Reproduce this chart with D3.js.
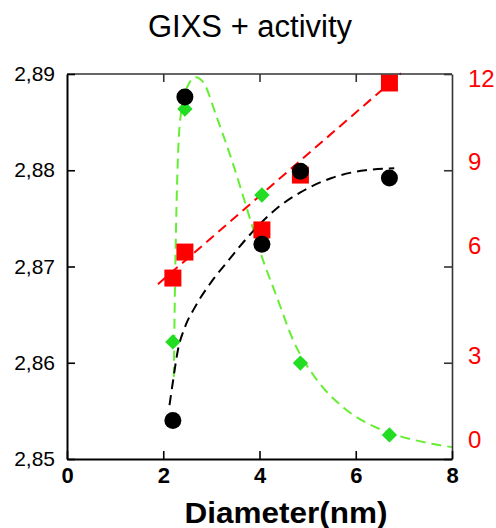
<!DOCTYPE html>
<html>
<head>
<meta charset="utf-8">
<script src="https://cdn.jsdelivr.net/npm/d3@7"></script>
<style>
  html, body { margin: 0; padding: 0; background: #fff; }
  svg { display: block; font-family: 'Liberation Sans', Arial, sans-serif; }
</style>
</head>
<body>
<svg id="chart"></svg>
<script>
// measured points (diameter in nm)
const diameters = [2.2, 2.45, 4.05, 4.85, 6.7];
const gixs = [2.854, 2.8876, 2.8723, 2.8799, 2.8792];           // left axis, black circles
const activitySquares = [5.64, 6.45, 7.14, 8.85, 11.72];        // right axis, red squares
const activityDiamonds = [3.65, 10.91, 8.23, 2.99, 0.75];       // right axis, green diamonds

// fitted curves
const blackFitX = [2.13, 2.2, 2.3, 2.45, 2.65, 3.0, 3.35, 3.8, 4.35, 4.85, 5.5, 6.2, 6.8];
const blackFitY = [2.8556, 2.858, 2.8612, 2.8637, 2.8657, 2.8684, 2.8706, 2.8733, 2.876, 2.8777, 2.8792, 2.88, 2.8802];
const redFitX = [1.89, 6.94];
const redFitY = [5.45, 12.02];
const greenFitX = [2.22, 2.24, 2.27, 2.31, 2.38, 2.5, 2.68, 2.85, 3.1, 3.45, 3.8, 4.05, 4.36, 4.7, 5.2, 5.75, 6.55, 7.25, 8.0];
const greenFitY = [2.56, 5.0, 7.5, 9.6, 10.9, 11.6, 11.9, 11.7, 10.7, 9.2, 7.5, 6.3, 5.05, 3.7, 2.45, 1.6, 0.9, 0.58, 0.37];

// axes
const xTicks = [0, 2, 4, 6, 8];
const leftTicks = [2.85, 2.86, 2.87, 2.88, 2.89];
const rightTicks = [0, 3, 6, 9, 12];

const title = 'GIXS + activity';
const xLabel = 'Diameter(nm)';

const width = 496;
const height = 528;
const plot = { left: 67, right: 452, top: 74, bottom: 459 };
// right labels sit a bit off their ticks in the original
const rightLabelShift = { 0: -19, 3: -7, 6: -21, 9: -8, 12: 5 };

const svg = d3.select('#chart').attr('width', width).attr('height', height);

const x = d3.scaleLinear().domain([0, 8]).range([plot.left, plot.right]);
const yL = d3.scaleLinear().domain([2.85, 2.89]).range([plot.bottom, plot.top]);
const yR = d3.scaleLinear().domain([0, 12]).range([plot.bottom, plot.top]);

const comma = v => d3.format('.2f')(v).replace('.', ',');

// title
svg.append('text')
  .attr('x', 250)
  .attr('y', 37)
  .attr('text-anchor', 'middle')
  .attr('font-size', 31)
  .attr('textLength', 204)
  .attr('lengthAdjust', 'spacingAndGlyphs')
  .text(title);

// curves
const greenLine = d3.line()
  .x((d, i) => x(greenFitX[i]))
  .y(d => yR(d))
  .curve(d3.curveMonotoneX);
svg.append('path')
  .attr('d', greenLine(greenFitY))
  .attr('fill', 'none')
  .attr('stroke', '#66ee33')
  .attr('stroke-width', 2)
  .attr('stroke-dasharray', '10,6');

const redLine = d3.line()
  .x((d, i) => x(redFitX[i]))
  .y(d => yR(d));
svg.append('path')
  .attr('d', redLine(redFitY))
  .attr('fill', 'none')
  .attr('stroke', '#ff0000')
  .attr('stroke-width', 2)
  .attr('stroke-dasharray', '10,6');

const blackLine = d3.line()
  .x((d, i) => x(blackFitX[i]))
  .y(d => yL(d))
  .curve(d3.curveMonotoneX);
svg.append('path')
  .attr('d', blackLine(blackFitY))
  .attr('fill', 'none')
  .attr('stroke', '#000')
  .attr('stroke-width', 2)
  .attr('stroke-dasharray', '10,6');

// markers
svg.append('g')
  .selectAll('rect')
  .data(activitySquares)
  .enter()
  .append('rect')
  .attr('x', (d, i) => x(diameters[i]) - 8.5)
  .attr('y', d => yR(d) - 8.5)
  .attr('width', 17)
  .attr('height', 17)
  .attr('fill', '#ff0000');

const diamond = d3.symbol().type(d3.symbolSquare).size(118);
svg.append('g')
  .selectAll('path')
  .data(activityDiamonds)
  .enter()
  .append('path')
  .attr('d', diamond)
  .attr('transform', (d, i) => `translate(${x(diameters[i])},${yR(d)}) rotate(45)`)
  .attr('fill', '#22dd22');

svg.append('g')
  .selectAll('circle')
  .data(gixs)
  .enter()
  .append('circle')
  .attr('cx', (d, i) => x(diameters[i]))
  .attr('cy', d => yL(d))
  .attr('r', 8.5)
  .attr('fill', '#000');

// axes
const styleAxis = (g, color, w) => {
  g.select('.domain').attr('stroke', color).attr('stroke-width', w);
  g.selectAll('.tick line').attr('stroke', color).attr('stroke-width', 1.6);
};

const topAxis = svg.append('g')
  .attr('transform', `translate(0,${plot.top})`)
  .call(d3.axisTop(x).tickValues([2, 4, 6]).tickSize(-8).tickSizeOuter(0).tickFormat(''));
topAxis.select('.domain').attr('d', `M${plot.left},0H${plot.right}`);
styleAxis(topAxis, '#333', 1.6);

const rightAxis = svg.append('g')
  .attr('transform', `translate(${plot.right},0)`)
  .call(d3.axisRight(yR).tickValues(rightTicks).tickSize(-8).tickSizeOuter(0).tickPadding(16));
styleAxis(rightAxis, '#333', 1.6);
rightAxis.selectAll('.tick text')
  .attr('fill', '#ff0000')
  .attr('font-size', 24)
  .attr('font-family', null)
  .attr('y', d => rightLabelShift[d]);

const leftAxis = svg.append('g')
  .attr('transform', `translate(${plot.left},0)`)
  .call(d3.axisLeft(yL).tickValues(leftTicks).tickSize(-8).tickSizeOuter(0).tickPadding(12).tickFormat(comma));
styleAxis(leftAxis, '#000', 2);
leftAxis.selectAll('.tick text')
  .attr('fill', '#000')
  .attr('font-size', 21)
  .attr('font-family', null);

const bottomAxis = svg.append('g')
  .attr('transform', `translate(0,${plot.bottom})`)
  .call(d3.axisBottom(x).tickValues(xTicks).tickSize(-8).tickSizeOuter(0).tickPadding(8).tickFormat(d3.format('d')));
styleAxis(bottomAxis, '#000', 2);
bottomAxis.selectAll('.tick text')
  .attr('fill', '#000')
  .attr('font-size', 22)
  .attr('font-weight', 'bold')
  .attr('font-family', null);

// x label
svg.append('text')
  .attr('x', 286)
  .attr('y', 523)
  .attr('text-anchor', 'middle')
  .attr('font-size', 30)
  .attr('font-weight', 'bold')
  .attr('textLength', 203)
  .attr('lengthAdjust', 'spacingAndGlyphs')
  .text(xLabel);
</script>
</body>
</html>
